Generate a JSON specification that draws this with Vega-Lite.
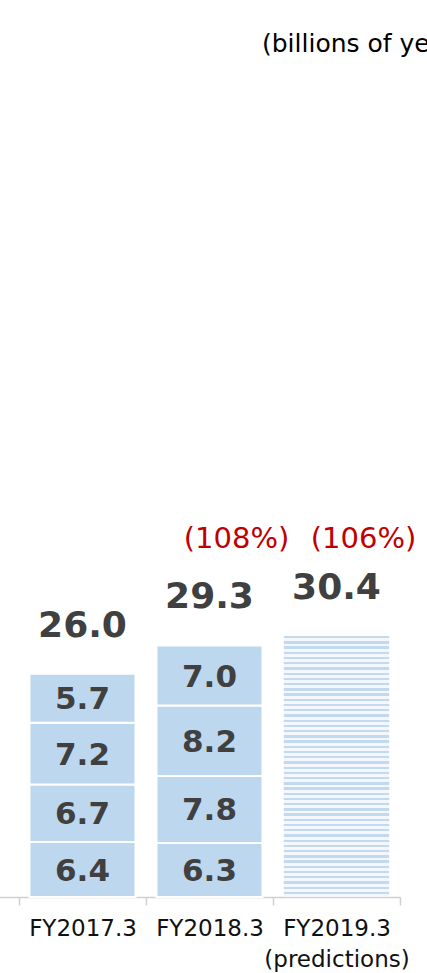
{
  "$schema": "https://vega.github.io/schema/vega-lite/v6.json",
  "width": 427,
  "height": 827,
  "autosize": {"type": "none"},
  "padding": {"left": 0, "right": 0, "top": 70, "bottom": 76},
  "background": "#ffffff",
  "title": {"text": "(billions of yen)", "anchor": "start", "frame": "group", "dx": 262, "offset": 13, "fontSize": 25, "font": "DejaVu Sans", "fontWeight": "normal", "color": "#000000"},
  "config": {"view": {"stroke": null}},
  "datasets": {
    "main": [
      {"year": "FY2017.3", "seg": 1, "value": 6.4, "kind": "actual"},
      {"year": "FY2017.3", "seg": 2, "value": 6.7, "kind": "actual"},
      {"year": "FY2017.3", "seg": 3, "value": 7.2, "kind": "actual"},
      {"year": "FY2017.3", "seg": 4, "value": 5.7, "kind": "actual"},
      {"year": "FY2018.3", "seg": 1, "value": 6.3, "kind": "actual"},
      {"year": "FY2018.3", "seg": 2, "value": 7.8, "kind": "actual"},
      {"year": "FY2018.3", "seg": 3, "value": 8.2, "kind": "actual"},
      {"year": "FY2018.3", "seg": 4, "value": 7.0, "kind": "actual"},
      {"year": "FY2019.3", "seg": 1, "value": 30.4, "kind": "forecast"}
    ],
    "growth": [
      {"year": "FY2018.3", "pct": "(108%)"},
      {"year": "FY2019.3", "pct": "(106%)"}
    ]
  },
  "data": {"name": "main"},
  "encoding": {
    "x": {
      "field": "year",
      "type": "nominal",
      "sort": null,
      "scale": {"domain": ["", "FY2017.3", "FY2018.3", "FY2019.3"], "range": [-108, 400], "paddingInner": 0, "paddingOuter": 0},
      "axis": {
        "title": null,
        "labelAngle": 0,
        "labelFont": "DejaVu Sans",
        "labelFontSize": 23,
        "labelColor": "#111111",
        "labelPadding": 12,
        "labelLineHeight": 31,
        "labelOverlap": false,
        "labelBound": false,
        "labelFlush": false,
        "labelExpr": "datum.value == 'FY2019.3' ? ['FY2019.3', '(predictions)'] : datum.value",
        "tickBand": "extent",
        "ticks": true,
        "tickSize": 8,
        "tickWidth": 1.5,
        "tickColor": "#d0d0d0",
        "domainColor": "#d0d0d0",
        "domainWidth": 1.5,
        "grid": false
      }
    }
  },
  "layer": [
    {
      "transform": [{"filter": "datum.kind == 'actual'"}],
      "mark": {"type": "bar", "width": {"band": 0.835}, "fill": "#bdd7ee", "stroke": "#ffffff", "strokeWidth": 2},
      "encoding": {
        "y": {"field": "value", "type": "quantitative", "stack": "zero", "scale": {"domain": [0, 96.33], "nice": false, "zero": true}, "axis": null},
        "order": {"field": "seg", "type": "ordinal"},
        "detail": {"field": "seg"}
      }
    },
    {
      "transform": [{"filter": "datum.kind == 'forecast'"}],
      "mark": {
        "type": "bar",
        "width": {"band": 0.83},
        "fill": {
          "gradient": "linear", "x1": 0, "y1": 0, "x2": 0, "y2": 1,
          "stops": [
            {"offset": 0, "color": "#c2daf0"}, {"offset": 0.009, "color": "#c2daf0"}, {"offset": 0.009, "color": "#f4f8fc"}, {"offset": 0.02, "color": "#f4f8fc"},
            {"offset": 0.02, "color": "#c2daf0"}, {"offset": 0.029, "color": "#c2daf0"}, {"offset": 0.029, "color": "#f4f8fc"}, {"offset": 0.04, "color": "#f4f8fc"},
            {"offset": 0.04, "color": "#c2daf0"}, {"offset": 0.049, "color": "#c2daf0"}, {"offset": 0.049, "color": "#f4f8fc"}, {"offset": 0.06, "color": "#f4f8fc"},
            {"offset": 0.06, "color": "#c2daf0"}, {"offset": 0.069, "color": "#c2daf0"}, {"offset": 0.069, "color": "#f4f8fc"}, {"offset": 0.08, "color": "#f4f8fc"},
            {"offset": 0.08, "color": "#c2daf0"}, {"offset": 0.089, "color": "#c2daf0"}, {"offset": 0.089, "color": "#f4f8fc"}, {"offset": 0.1, "color": "#f4f8fc"},
            {"offset": 0.1, "color": "#c2daf0"}, {"offset": 0.109, "color": "#c2daf0"}, {"offset": 0.109, "color": "#f4f8fc"}, {"offset": 0.12, "color": "#f4f8fc"},
            {"offset": 0.12, "color": "#c2daf0"}, {"offset": 0.129, "color": "#c2daf0"}, {"offset": 0.129, "color": "#f4f8fc"}, {"offset": 0.14, "color": "#f4f8fc"},
            {"offset": 0.14, "color": "#c2daf0"}, {"offset": 0.149, "color": "#c2daf0"}, {"offset": 0.149, "color": "#f4f8fc"}, {"offset": 0.16, "color": "#f4f8fc"},
            {"offset": 0.16, "color": "#c2daf0"}, {"offset": 0.169, "color": "#c2daf0"}, {"offset": 0.169, "color": "#f4f8fc"}, {"offset": 0.18, "color": "#f4f8fc"},
            {"offset": 0.18, "color": "#c2daf0"}, {"offset": 0.189, "color": "#c2daf0"}, {"offset": 0.189, "color": "#f4f8fc"}, {"offset": 0.2, "color": "#f4f8fc"},
            {"offset": 0.2, "color": "#c2daf0"}, {"offset": 0.209, "color": "#c2daf0"}, {"offset": 0.209, "color": "#f4f8fc"}, {"offset": 0.22, "color": "#f4f8fc"},
            {"offset": 0.22, "color": "#c2daf0"}, {"offset": 0.229, "color": "#c2daf0"}, {"offset": 0.229, "color": "#f4f8fc"}, {"offset": 0.24, "color": "#f4f8fc"},
            {"offset": 0.24, "color": "#c2daf0"}, {"offset": 0.249, "color": "#c2daf0"}, {"offset": 0.249, "color": "#f4f8fc"}, {"offset": 0.26, "color": "#f4f8fc"},
            {"offset": 0.26, "color": "#c2daf0"}, {"offset": 0.269, "color": "#c2daf0"}, {"offset": 0.269, "color": "#f4f8fc"}, {"offset": 0.28, "color": "#f4f8fc"},
            {"offset": 0.28, "color": "#c2daf0"}, {"offset": 0.289, "color": "#c2daf0"}, {"offset": 0.289, "color": "#f4f8fc"}, {"offset": 0.3, "color": "#f4f8fc"},
            {"offset": 0.3, "color": "#c2daf0"}, {"offset": 0.309, "color": "#c2daf0"}, {"offset": 0.309, "color": "#f4f8fc"}, {"offset": 0.32, "color": "#f4f8fc"},
            {"offset": 0.32, "color": "#c2daf0"}, {"offset": 0.329, "color": "#c2daf0"}, {"offset": 0.329, "color": "#f4f8fc"}, {"offset": 0.34, "color": "#f4f8fc"},
            {"offset": 0.34, "color": "#c2daf0"}, {"offset": 0.349, "color": "#c2daf0"}, {"offset": 0.349, "color": "#f4f8fc"}, {"offset": 0.36, "color": "#f4f8fc"},
            {"offset": 0.36, "color": "#c2daf0"}, {"offset": 0.369, "color": "#c2daf0"}, {"offset": 0.369, "color": "#f4f8fc"}, {"offset": 0.38, "color": "#f4f8fc"},
            {"offset": 0.38, "color": "#c2daf0"}, {"offset": 0.389, "color": "#c2daf0"}, {"offset": 0.389, "color": "#f4f8fc"}, {"offset": 0.4, "color": "#f4f8fc"},
            {"offset": 0.4, "color": "#c2daf0"}, {"offset": 0.409, "color": "#c2daf0"}, {"offset": 0.409, "color": "#f4f8fc"}, {"offset": 0.42, "color": "#f4f8fc"},
            {"offset": 0.42, "color": "#c2daf0"}, {"offset": 0.429, "color": "#c2daf0"}, {"offset": 0.429, "color": "#f4f8fc"}, {"offset": 0.44, "color": "#f4f8fc"},
            {"offset": 0.44, "color": "#c2daf0"}, {"offset": 0.449, "color": "#c2daf0"}, {"offset": 0.449, "color": "#f4f8fc"}, {"offset": 0.46, "color": "#f4f8fc"},
            {"offset": 0.46, "color": "#c2daf0"}, {"offset": 0.469, "color": "#c2daf0"}, {"offset": 0.469, "color": "#f4f8fc"}, {"offset": 0.48, "color": "#f4f8fc"},
            {"offset": 0.48, "color": "#c2daf0"}, {"offset": 0.489, "color": "#c2daf0"}, {"offset": 0.489, "color": "#f4f8fc"}, {"offset": 0.5, "color": "#f4f8fc"},
            {"offset": 0.5, "color": "#c2daf0"}, {"offset": 0.509, "color": "#c2daf0"}, {"offset": 0.509, "color": "#f4f8fc"}, {"offset": 0.52, "color": "#f4f8fc"},
            {"offset": 0.52, "color": "#c2daf0"}, {"offset": 0.529, "color": "#c2daf0"}, {"offset": 0.529, "color": "#f4f8fc"}, {"offset": 0.54, "color": "#f4f8fc"},
            {"offset": 0.54, "color": "#c2daf0"}, {"offset": 0.549, "color": "#c2daf0"}, {"offset": 0.549, "color": "#f4f8fc"}, {"offset": 0.56, "color": "#f4f8fc"},
            {"offset": 0.56, "color": "#c2daf0"}, {"offset": 0.569, "color": "#c2daf0"}, {"offset": 0.569, "color": "#f4f8fc"}, {"offset": 0.58, "color": "#f4f8fc"},
            {"offset": 0.58, "color": "#c2daf0"}, {"offset": 0.589, "color": "#c2daf0"}, {"offset": 0.589, "color": "#f4f8fc"}, {"offset": 0.6, "color": "#f4f8fc"},
            {"offset": 0.6, "color": "#c2daf0"}, {"offset": 0.609, "color": "#c2daf0"}, {"offset": 0.609, "color": "#f4f8fc"}, {"offset": 0.62, "color": "#f4f8fc"},
            {"offset": 0.62, "color": "#c2daf0"}, {"offset": 0.629, "color": "#c2daf0"}, {"offset": 0.629, "color": "#f4f8fc"}, {"offset": 0.64, "color": "#f4f8fc"},
            {"offset": 0.64, "color": "#c2daf0"}, {"offset": 0.649, "color": "#c2daf0"}, {"offset": 0.649, "color": "#f4f8fc"}, {"offset": 0.66, "color": "#f4f8fc"},
            {"offset": 0.66, "color": "#c2daf0"}, {"offset": 0.669, "color": "#c2daf0"}, {"offset": 0.669, "color": "#f4f8fc"}, {"offset": 0.68, "color": "#f4f8fc"},
            {"offset": 0.68, "color": "#c2daf0"}, {"offset": 0.689, "color": "#c2daf0"}, {"offset": 0.689, "color": "#f4f8fc"}, {"offset": 0.7, "color": "#f4f8fc"},
            {"offset": 0.7, "color": "#c2daf0"}, {"offset": 0.709, "color": "#c2daf0"}, {"offset": 0.709, "color": "#f4f8fc"}, {"offset": 0.72, "color": "#f4f8fc"},
            {"offset": 0.72, "color": "#c2daf0"}, {"offset": 0.729, "color": "#c2daf0"}, {"offset": 0.729, "color": "#f4f8fc"}, {"offset": 0.74, "color": "#f4f8fc"},
            {"offset": 0.74, "color": "#c2daf0"}, {"offset": 0.749, "color": "#c2daf0"}, {"offset": 0.749, "color": "#f4f8fc"}, {"offset": 0.76, "color": "#f4f8fc"},
            {"offset": 0.76, "color": "#c2daf0"}, {"offset": 0.769, "color": "#c2daf0"}, {"offset": 0.769, "color": "#f4f8fc"}, {"offset": 0.78, "color": "#f4f8fc"},
            {"offset": 0.78, "color": "#c2daf0"}, {"offset": 0.789, "color": "#c2daf0"}, {"offset": 0.789, "color": "#f4f8fc"}, {"offset": 0.8, "color": "#f4f8fc"},
            {"offset": 0.8, "color": "#c2daf0"}, {"offset": 0.809, "color": "#c2daf0"}, {"offset": 0.809, "color": "#f4f8fc"}, {"offset": 0.82, "color": "#f4f8fc"},
            {"offset": 0.82, "color": "#c2daf0"}, {"offset": 0.829, "color": "#c2daf0"}, {"offset": 0.829, "color": "#f4f8fc"}, {"offset": 0.84, "color": "#f4f8fc"},
            {"offset": 0.84, "color": "#c2daf0"}, {"offset": 0.849, "color": "#c2daf0"}, {"offset": 0.849, "color": "#f4f8fc"}, {"offset": 0.86, "color": "#f4f8fc"},
            {"offset": 0.86, "color": "#c2daf0"}, {"offset": 0.869, "color": "#c2daf0"}, {"offset": 0.869, "color": "#f4f8fc"}, {"offset": 0.88, "color": "#f4f8fc"},
            {"offset": 0.88, "color": "#c2daf0"}, {"offset": 0.889, "color": "#c2daf0"}, {"offset": 0.889, "color": "#f4f8fc"}, {"offset": 0.9, "color": "#f4f8fc"},
            {"offset": 0.9, "color": "#c2daf0"}, {"offset": 0.909, "color": "#c2daf0"}, {"offset": 0.909, "color": "#f4f8fc"}, {"offset": 0.92, "color": "#f4f8fc"},
            {"offset": 0.92, "color": "#c2daf0"}, {"offset": 0.929, "color": "#c2daf0"}, {"offset": 0.929, "color": "#f4f8fc"}, {"offset": 0.94, "color": "#f4f8fc"},
            {"offset": 0.94, "color": "#c2daf0"}, {"offset": 0.949, "color": "#c2daf0"}, {"offset": 0.949, "color": "#f4f8fc"}, {"offset": 0.96, "color": "#f4f8fc"},
            {"offset": 0.96, "color": "#c2daf0"}, {"offset": 0.969, "color": "#c2daf0"}, {"offset": 0.969, "color": "#f4f8fc"}, {"offset": 0.98, "color": "#f4f8fc"},
            {"offset": 0.98, "color": "#c2daf0"}, {"offset": 0.989, "color": "#c2daf0"}, {"offset": 0.989, "color": "#f4f8fc"}, {"offset": 1, "color": "#f4f8fc"}
          ]
        }
      },
      "encoding": {
        "y": {"field": "value", "type": "quantitative", "stack": "zero", "scale": {"domain": [0, 96.33], "nice": false, "zero": true}, "axis": null}
      }
    },
    {
      "transform": [{"filter": "datum.kind == 'actual'"}],
      "mark": {"type": "text", "font": "DejaVu Sans", "fontSize": 31, "fontWeight": "bold", "color": "#404040", "baseline": "middle", "align": "center", "dy": 2},
      "encoding": {
        "y": {"field": "value", "type": "quantitative", "stack": "zero", "bandPosition": 0.5, "scale": {"domain": [0, 96.33], "nice": false, "zero": true}, "axis": null},
        "order": {"field": "seg", "type": "ordinal"},
        "detail": {"field": "seg"},
        "text": {"field": "value", "type": "quantitative", "format": ".1f"}
      }
    },
    {
      "mark": {"type": "text", "font": "DejaVu Sans", "fontSize": 36, "fontWeight": "bold", "color": "#404040", "baseline": "alphabetic", "align": "center", "dy": -37},
      "encoding": {
        "y": {"aggregate": "sum", "field": "value", "type": "quantitative", "scale": {"domain": [0, 96.33], "nice": false, "zero": true}, "axis": null},
        "text": {"aggregate": "sum", "field": "value", "type": "quantitative", "format": ".1f"}
      }
    },
    {
      "data": {"name": "growth"},
      "mark": {"type": "text", "font": "DejaVu Sans", "fontSize": 29, "color": "#c00000", "baseline": "alphabetic", "align": "center", "dx": 27},
      "encoding": {
        "y": {"datum": 40.65, "type": "quantitative", "scale": {"domain": [0, 96.33], "nice": false, "zero": true}, "axis": null},
        "text": {"field": "pct", "type": "nominal"}
      }
    }
  ]
}
